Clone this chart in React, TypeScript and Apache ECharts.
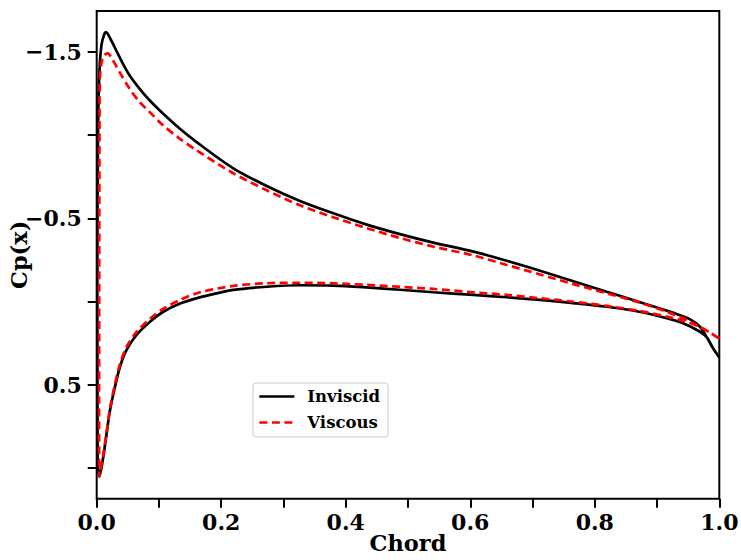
import React, { useEffect, useRef } from "react";
import * as echarts from "echarts";

// Inviscid solution, upper (suction) surface, leading edge -> trailing edge
const invUpperX = [0.0015, 0.0013, 0.001, 0.0014, 0.0024, 0.0045, 0.0077, 0.0117, 0.0149, 0.023, 0.031, 0.0418, 0.0524, 0.0684, 0.0845, 0.106, 0.1327, 0.1595, 0.2194, 0.273, 0.3265, 0.38, 0.4337, 0.487, 0.5406, 0.605, 0.6585, 0.712, 0.7655, 0.819, 0.8714, 0.926, 0.9526, 0.969, 0.98, 0.99, 1.0];
const invUpperCp = [0.95, 0.71, -0.01, -0.61, -1.09, -1.39, -1.54, -1.6, -1.617, -1.57, -1.51, -1.43, -1.36, -1.28, -1.21, -1.13, -1.04, -0.96, -0.8, -0.694, -0.604, -0.53, -0.462, -0.405, -0.354, -0.3, -0.245, -0.185, -0.122, -0.059, 0.002, 0.067, 0.105, 0.151, 0.215, 0.28, 0.335];
// Inviscid stagnation point
const invStagX = 0.0045;
const invStagCp = 1.05;
// Inviscid solution, lower (pressure) surface
const invLowerX = [0.0106, 0.016, 0.0214, 0.0294, 0.0374, 0.048, 0.064, 0.0856, 0.107, 0.134, 0.1606, 0.182, 0.2194, 0.273, 0.3265, 0.38, 0.4337, 0.487, 0.5406, 0.605, 0.6585, 0.712, 0.7655, 0.819, 0.8714, 0.9155, 0.942, 0.969, 0.98, 0.99, 1.0];
const invLowerCp = [0.931, 0.79, 0.651, 0.511, 0.391, 0.29, 0.2, 0.121, 0.061, 0.012, -0.02, -0.04, -0.07, -0.089, -0.098, -0.096, -0.085, -0.071, -0.056, -0.04, -0.026, -0.01, 0.009, 0.031, 0.061, 0.1, 0.13, 0.181, 0.215, 0.28, 0.335];

// Viscous solution, upper surface
const visUpperX = [0.0038, 0.004, 0.0042, 0.0045, 0.005, 0.0075, 0.0115, 0.0177, 0.0257, 0.0363, 0.0524, 0.0684, 0.0845, 0.106, 0.1327, 0.1595, 0.2194, 0.273, 0.3265, 0.38, 0.4337, 0.487, 0.5406, 0.605, 0.6585, 0.712, 0.7655, 0.819, 0.8714, 0.9155, 0.942, 0.96, 0.98, 1.0];
const visUpperCp = [0.59, -0.01, -0.61, -1.09, -1.33, -1.43, -1.475, -1.49, -1.45, -1.38, -1.28, -1.2, -1.14, -1.06, -0.98, -0.91, -0.77, -0.668, -0.578, -0.506, -0.441, -0.382, -0.33, -0.277, -0.22, -0.163, -0.105, -0.05, 0.005, 0.061, 0.1, 0.135, 0.175, 0.222];
// Viscous stagnation point
const visStagX = 0.004;
const visStagCp = 1.05;
// Viscous solution, lower surface
const visLowerX = [0.0101, 0.0157, 0.0214, 0.0294, 0.0374, 0.048, 0.064, 0.0856, 0.107, 0.134, 0.166, 0.2194, 0.273, 0.3265, 0.38, 0.4337, 0.487, 0.5406, 0.605, 0.6585, 0.712, 0.7655, 0.819, 0.8714, 0.9155, 0.9365, 0.96, 0.98, 1.0];
const visLowerCp = [0.931, 0.79, 0.639, 0.495, 0.375, 0.272, 0.182, 0.103, 0.043, -0.01, -0.056, -0.094, -0.11, -0.113, -0.11, -0.1, -0.089, -0.076, -0.056, -0.04, -0.02, 0.001, 0.026, 0.056, 0.09, 0.11, 0.138, 0.175, 0.222];

const seriesNames = ["Inviscid", "Viscous"];
const yTickValues = [-1.5, -1.0, -0.5, 0.0, 0.5, 1.0];
const yLabelValues = [-1.5, -0.5, 0.5];
const yMin = -1.744;
const yMax = 1.183;

function loop(ux: number[], ucp: number[], sx: number, scp: number, lx: number[], lcp: number[]) {
  const pts: number[][] = [];
  for (let i = ux.length - 1; i >= 0; i--) pts.push([ux[i], ucp[i]]);
  pts.push([sx, scp]);
  for (let i = 0; i < lx.length; i++) pts.push([lx[i], lcp[i]]);
  return pts;
}

const FONT = "DejaVu Serif";

export default function App() {
  const ref = useRef<HTMLDivElement>(null);
  useEffect(() => {
    if (!ref.current) return;
    const chart = echarts.init(ref.current, null, { renderer: "svg" });
    const fmt = (v: number) => {
      const s = Math.abs(v).toFixed(1);
      return v < -1e-9 ? "{m|\u2212}" + s : s;
    };
    chart.setOption({
      animation: false,
      backgroundColor: "#fff",
      grid: {
        left: 96.7,
        top: 11,
        right: 21.7,
        bottom: 61.3,
        show: true,
        borderColor: "#000",
        borderWidth: 2,
        containLabel: false,
        outerBoundsMode: "none",
      },
      legend: {
        data: seriesNames,
        orient: "vertical",
        left: 253,
        top: 383,
        itemWidth: 35,
        itemHeight: 14,
        itemGap: 9,
        padding: [5, 8, 6, 5],
        backgroundColor: "rgba(255,255,255,0.8)",
        borderColor: "#ccc",
        borderWidth: 1,
        borderRadius: 3,
        itemStyle: { opacity: 0 },
        lineStyle: { width: 2.7 },
        textStyle: { fontFamily: FONT, fontWeight: "bold", fontSize: 16.5, color: "#000", padding: [0, 0, 0, 8] },
      },
      xAxis: {
        type: "value",
        min: 0,
        max: 1,
        interval: 0.1,
        name: "Chord",
        nameLocation: "middle",
        nameGap: 33,
        nameMoveOverlap: false,
        nameTextStyle: { fontFamily: FONT, fontWeight: "bold", fontSize: 22.5, color: "#000" },
        axisLine: { show: false, onZero: false },
        axisTick: { show: true, inside: false, length: 9, lineStyle: { color: "#000", width: 2 } },
        axisLabel: {
          margin: 12,
          fontFamily: FONT,
          fontWeight: "bold",
          fontSize: 22,
          color: "#000",
          formatter: (v: number) => (Math.round(v * 10) % 2 === 0 ? v.toFixed(1) : ""),
        },
        splitLine: { show: false },
      },
      yAxis: {
        type: "value",
        inverse: true,
        min: yMin,
        max: yMax,
        name: "Cp(x)",
        nameLocation: "middle",
        nameGap: 77.5,
        nameMoveOverlap: false,
        nameRotate: 90,
        nameTextStyle: {
          fontFamily: FONT,
          fontWeight: "bold",
          fontSize: 22.5,
          color: "#000",
          verticalAlign: "middle",
        },
        axisLine: { show: false, onZero: false },
        axisTick: {
          show: true,
          inside: false,
          length: 9,
          customValues: yTickValues,
          lineStyle: { color: "#000", width: 2 },
        },
        axisLabel: {
          margin: 15,
          customValues: yLabelValues,
          fontFamily: FONT,
          fontWeight: "bold",
          fontSize: 22,
          color: "#000",
          formatter: fmt,
          rich: {
            m: { fontFamily: "DejaVu Sans", fontWeight: "bold", fontSize: 22, color: "#000" },
          },
        },
        splitLine: { show: false },
      },
      series: [
        {
          name: seriesNames[0],
          type: "line",
          data: loop(invUpperX, invUpperCp, invStagX, invStagCp, invLowerX, invLowerCp),
          showSymbol: false,
          symbol: "none",
          smooth: 0.3,
          lineStyle: { color: "#000", width: 2.7 },
          itemStyle: { color: "#000" },
          z: 2,
        },
        {
          name: seriesNames[1],
          type: "line",
          data: loop(visUpperX, visUpperCp, visStagX, visStagCp, visLowerX, visLowerCp),
          showSymbol: false,
          symbol: "none",
          smooth: 0.3,
          lineStyle: { color: "#ff0000", width: 2.7, type: [8, 4.5] },
          itemStyle: { color: "#ff0000" },
          z: 3,
        },
      ],
    });
    return () => chart.dispose();
  }, []);
  return (
    <div
      ref={ref}
      style={{ position: "fixed", left: 0, top: 0, width: 741, height: 560, background: "#fff" }}
    />
  );
}
